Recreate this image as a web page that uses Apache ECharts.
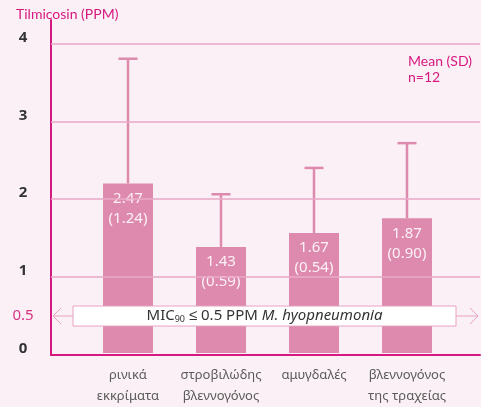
<!DOCTYPE html>
<html>
<head>
<meta charset="utf-8">
<script src="https://cdn.jsdelivr.net/npm/echarts@6/dist/echarts.min.js"></script>
<style>
  html, body { margin: 0; padding: 0; background: #fbf0f5; }
  #chart { width: 481px; height: 407px; }
</style>
</head>
<body>
<div id="chart"></div>
<script>
// data
var categories = ["ρινικά\nεκκρίματα", "στροβιλώδης\nβλεννογόνος", "αμυγδαλές", "βλεννογόνος\nτης τραχείας"];
var barTop = [2.19, 1.37, 1.55, 1.74];      // drawn bar heights
var whiskerTop = [3.80, 2.05, 2.39, 2.71];  // drawn error bar tops
var meanText = ["2.47", "1.43", "1.67", "1.87"];
var sdText = ["1.24", "0.59", "0.54", "0.90"];
var gridTicks = [1, 2, 3, 4];
var micLevel = 0.5;

var pink = "#dd8aae";
var magenta = "#d6197f";
var gridPink = "#eaa9c7";
var fontFam = "'Noto Sans', sans-serif";
var noteFam = "Lato, 'Noto Sans', sans-serif";

var chart = echarts.init(document.getElementById("chart"));

var option = {
  backgroundColor: "#fbf0f5",
  animation: false,
  textStyle: { fontFamily: fontFam },
  title: [
    {
      text: "Tilmicosin (PPM)",
      left: 11, top: 2,
      textStyle: { color: magenta, fontSize: 14, fontWeight: "normal", fontFamily: noteFam }
    },
    {
      text: "Mean (SD)\nn=12",
      right: 4, top: 48,
      textStyle: { color: magenta, fontSize: 14, fontWeight: "normal", lineHeight: 16, fontFamily: noteFam }
    }
  ],
  grid: [
    { left: 51, right: 1, top: 20, bottom: 52 },       // frame with axes
    { left: 81.5, right: 27.5, top: 20, bottom: 52 }   // bars
  ],
  xAxis: [
    {
      gridIndex: 0, type: "value", min: 0, max: 1,
      axisLine: { show: true, lineStyle: { color: magenta, width: 2 } },
      axisTick: { show: false }, axisLabel: { show: false }, splitLine: { show: false }
    },
    {
      gridIndex: 1, type: "category", data: categories,
      axisLine: { show: false }, axisTick: { show: false },
      axisLabel: { interval: 0, color: "#5a5a5a", fontSize: 13, lineHeight: 21, margin: 12, fontFamily: fontFam }
    }
  ],
  yAxis: [
    {
      gridIndex: 0, type: "value", min: 0, max: 4.3, interval: 0.5,
      axisLine: { show: true, lineStyle: { color: magenta, width: 2 } },
      axisTick: { show: false },
      splitLine: { show: false },
      axisLabel: {
        margin: 28, align: "center",
        formatter: function (v) {
          if (v === micLevel) return "{p|" + v + "}";
          if (gridTicks.indexOf(v) >= 0 || v === 0) return "{b|" + v + "}";
          return "";
        },
        rich: {
          b: { color: "#333", fontSize: 15, fontWeight: "bold", padding: [0, 0, 12, 0], fontFamily: fontFam },
          p: { color: "#d83585", fontSize: 15, fontFamily: fontFam }
        }
      }
    },
    {
      gridIndex: 1, type: "value", min: 0, max: 4.3, show: false
    }
  ],
  series: [
    {
      // horizontal grid lines
      type: "line", xAxisIndex: 0, yAxisIndex: 0, data: [], z: 1, silent: true,
      markLine: {
        symbol: "none", silent: true,
        label: { show: false },
        lineStyle: { color: gridPink, width: 1.5, type: "solid" },
        data: gridTicks.map(function (t) { return { yAxis: t }; })
      }
    },
    {
      // error bars
      type: "custom", xAxisIndex: 1, yAxisIndex: 1, z: 2, silent: true,
      data: categories.map(function (c, i) { return [i, barTop[i], whiskerTop[i]]; }),
      renderItem: function (params, api) {
        var lo = api.coord([api.value(0), api.value(1)]);
        var hi = api.coord([api.value(0), api.value(2)]);
        var cap = 9.5;
        var st = { stroke: pink, lineWidth: 2.5, fill: null };
        return {
          type: "group",
          children: [
            { type: "line", shape: { x1: lo[0], y1: lo[1], x2: hi[0], y2: hi[1] }, style: st },
            { type: "line", shape: { x1: hi[0] - cap, y1: hi[1], x2: hi[0] + cap, y2: hi[1] }, style: st }
          ]
        };
      }
    },
    {
      type: "bar", xAxisIndex: 1, yAxisIndex: 1, z: 3, barWidth: 50, silent: true,
      data: barTop,
      itemStyle: { color: pink },
      label: {
        show: true, position: "insideTop", distance: 5,
        color: "#fdf1f6", fontSize: 15, lineHeight: 20, fontFamily: fontFam,
        formatter: function (p) {
          return meanText[p.dataIndex] + "\n(" + sdText[p.dataIndex] + ")";
        }
      }
    },
    {
      // MIC90 annotation
      type: "custom", xAxisIndex: 0, yAxisIndex: 0, z: 5, silent: true,
      data: [[0, micLevel]],
      renderItem: function (params, api) {
        var cs = params.coordSys;
        var y = api.coord([0, api.value(1)])[1];
        var x0 = cs.x + 2, x1 = cs.x + cs.width - 2;
        var ah = 8;
        var lineSt = { stroke: "#e7a3c2", lineWidth: 1, fill: null };
        var bx0 = cs.x + 22, bx1 = cs.x + cs.width - 24;
        return {
          type: "group",
          children: [
            { type: "line", shape: { x1: x0, y1: y, x2: x1, y2: y }, style: lineSt },
            { type: "polyline", shape: { points: [[x0 + ah, y - ah], [x0, y], [x0 + ah, y + ah]] }, style: lineSt },
            { type: "polyline", shape: { points: [[x1 - ah, y - ah], [x1, y], [x1 - ah, y + ah]] }, style: lineSt },
            {
              type: "rect",
              shape: { x: bx0, y: y - 10, width: bx1 - bx0, height: 20 },
              style: { fill: "#ffffff", stroke: "#e7a3c2", lineWidth: 1 }
            },
            {
              type: "text",
              x: (bx0 + bx1) / 2, y: y,
              style: {
                text: "{n|MIC}{s|90}{n| ≤ 0.5 PPM }{i|M. hyopneumonia}",
                align: "center", verticalAlign: "middle",
                rich: {
                  n: { fill: "#333", fontSize: 15, fontFamily: fontFam },
                  s: { fill: "#333", fontSize: 9, fontFamily: fontFam, padding: [6, 0, 0, 0] },
                  i: { fill: "#333", fontSize: 15, fontStyle: "italic", fontFamily: fontFam }
                }
              }
            }
          ]
        };
      }
    }
  ]
};

chart.setOption(option);
</script>
</body>
</html>
